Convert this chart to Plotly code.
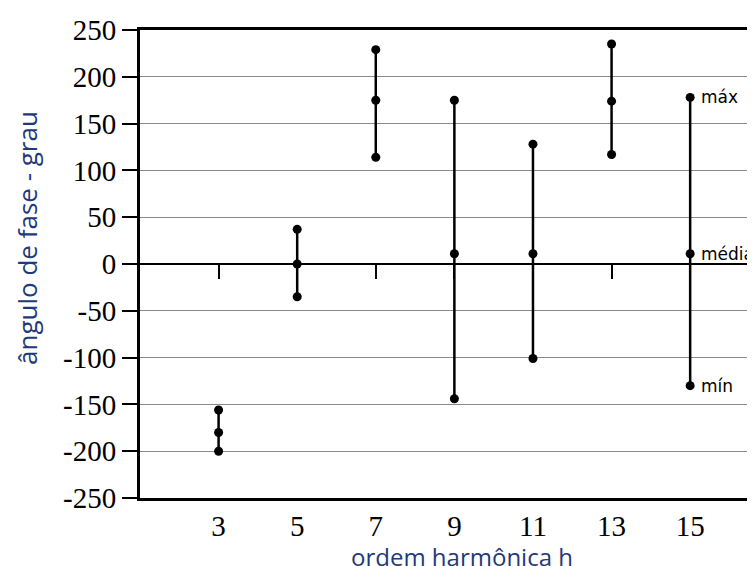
import plotly.graph_objects as go

# Data
harmonics = [3, 5, 7, 9, 11, 13, 15]
phase_max = [-156, 37, 229, 175, 128, 235, 178]
phase_mean = [-180, 0, 175, 11, 11, 174, 11]
phase_min = [-200, -35, 114, -144, -101, 117, -130]
y_ticks = [-250, -200, -150, -100, -50, 0, 50, 100, 150, 200, 250]
y_tick_labels = ["-250", "-200", "-150", "-100", "-50", "0", "50", "100", "150", "200", "250"]
label_texts = ["máx", "média", "mín"]
x_title = "ordem harmônica h"
y_title = "ângulo de fase - grau"

xs, ys, mx, my = [], [], [], []
for h, lo, me, hi in zip(harmonics, phase_min, phase_mean, phase_max):
    xs += [h, h, None]
    ys += [lo, hi, None]
    mx += [h, h, h]
    my += [lo, me, hi]

fig = go.Figure()
fig.add_trace(go.Scatter(x=xs, y=ys, mode="lines",
                         line=dict(color="black", width=2.5),
                         hoverinfo="skip", showlegend=False))
fig.add_trace(go.Scatter(x=mx, y=my, mode="markers",
                         marker=dict(color="black", size=9),
                         showlegend=False))
# invisible trace to carry the zero-line tick axis
fig.add_trace(go.Scatter(x=harmonics, y=[0]*len(harmonics), xaxis="x2",
                         mode="markers", marker=dict(opacity=0),
                         hoverinfo="skip", showlegend=False))

last = len(harmonics) - 1
for txt, val in zip(label_texts, [phase_max[last], phase_mean[last], phase_min[last]]):
    fig.add_annotation(x=harmonics[last], y=val, text=txt, showarrow=False,
                       xanchor="left", yanchor="middle", xshift=9,
                       font=dict(family="DejaVu Sans", size=17, color="black"))

title_color = "#1F3A7A"
fig.add_annotation(xref="paper", yref="paper", x=0.5236, y=0, yshift=-58,
                   xanchor="center", yanchor="middle", showarrow=False,
                   text=x_title,
                   font=dict(family="Open Sans", size=24, color=title_color))
fig.add_annotation(xref="paper", yref="paper", x=0, xshift=-113, y=0.5556,
                   xanchor="center", yanchor="middle", showarrow=False,
                   textangle=-90, text=y_title,
                   font=dict(family="Open Sans", size=26, color=title_color))

serif = dict(family="Liberation Serif", size=29, color="black")

# the page body has an 8px margin, so the figure is sized 8px smaller
fig.update_layout(
    width=747, height=558,
    margin=dict(l=132, r=0, t=22, b=68),
    paper_bgcolor="white", plot_bgcolor="white",
    xaxis=dict(range=[1, 16.65], tickvals=harmonics,
               ticktext=[str(h) for h in harmonics],
               tickfont=serif, ticks="", automargin=False,
               showline=True, linecolor="black", linewidth=3, mirror=True,
               showgrid=False, zeroline=False),
    xaxis2=dict(range=[1, 16.65], overlaying="x", anchor="free", position=0.5,
                side="bottom", tickvals=harmonics, ticks="outside", ticklen=14,
                tickwidth=2, tickcolor="black", showticklabels=False,
                showline=False, showgrid=False, zeroline=False, automargin=False),
    yaxis=dict(range=[-250, 250], tickvals=y_ticks, ticktext=y_tick_labels,
               tickfont=serif, automargin=False,
               ticks="outside", ticklen=15, tickwidth=2, tickcolor="black",
               showline=True, linecolor="black", linewidth=3,
               showgrid=True, gridcolor="#8a8a8a", gridwidth=1,
               zeroline=True, zerolinecolor="black", zerolinewidth=2),
)

fig.write_html("out.html")
